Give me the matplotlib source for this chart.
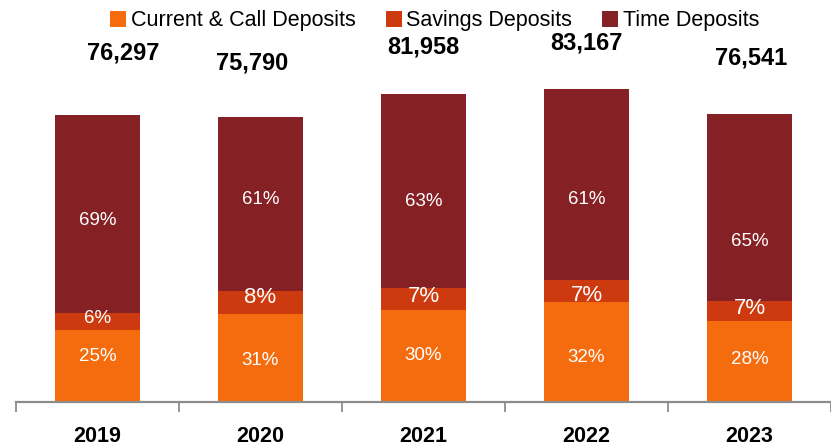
import matplotlib
matplotlib.use("Agg")
import matplotlib.pyplot as plt
from matplotlib.patches import Patch
import numpy as np

years = ["2019", "2020", "2021", "2022", "2023"]
totals = [76297, 75790, 81958, 83167, 76541]
current_pct = [25, 31, 30, 32, 28]
savings_pct = [6, 8, 7, 7, 7]
time_pct = [69, 61, 63, 61, 65]
series_names = ["Current & Call Deposits", "Savings Deposits", "Time Deposits"]

colors = ["#F56C0E", "#CE3A10", "#852024"]

plt.rcParams['font.family'] = ['Liberation Sans', 'DejaVu Sans']

fig = plt.figure(figsize=(8.31, 4.46), dpi=100)
ax = fig.add_axes([16/831, 44/446, 1 - 16/831, 402/446])

x = np.arange(len(years))
tot = np.array(totals, dtype=float)
cur = tot * np.array(current_pct) / 100
sav = tot * np.array(savings_pct) / 100
tim = tot * np.array(time_pct) / 100

w = 0.52
ax.bar(x, cur, w, color=colors[0])
ax.bar(x, sav, w, bottom=cur, color=colors[1])
ax.bar(x, tim, w, bottom=cur + sav, color=colors[2])

# label offsets (data units) to mimic label placement
time_dy = [-1860, 1060, -2920, -3990, -9040]
sav_dy = [700, 1200, 700, -1200, 700]
cur_dy = [2500, -800, 0, -1500, 700]
for i in range(len(years)):
    ax.text(x[i], cur[i] / 2 + cur_dy[i], f"{current_pct[i]}%", ha='center', va='center',
            color='white', fontsize=13.5)
    fs = 13.5 if savings_pct[i] == 6 else 16
    ax.text(x[i], cur[i] + sav[i] / 2 + sav_dy[i], f"{savings_pct[i]}%", ha='center', va='center',
            color='white', fontsize=fs)
    ax.text(x[i], cur[i] + sav[i] + tim[i] / 2 + time_dy[i], f"{time_pct[i]}%", ha='center',
            va='center', color='white', fontsize=13.5)

# total labels (offsets in data units relative to bar)
lab_dx = [0.16, -0.05, 0.0, 0.0, 0.01]
lab_dy = [16480, 14350, 12500, 12230, 14900]
for i in range(len(years)):
    ax.text(x[i] + lab_dx[i], tot[i] + lab_dy[i], f"{totals[i]:,}", ha='center', va='center',
            fontsize=17, fontweight='bold', color='black')

ax.set_xlim(-0.5, 4.5 - 7/164.5)
ax.set_ylim(0, 402 / 0.003762)
ax.set_yticks([])
for s in ['left', 'right', 'top']:
    ax.spines[s].set_visible(False)
ax.spines['bottom'].set_color('#8C8C8C')
ax.spines['bottom'].set_linewidth(1.6)
ax.set_xticks(np.arange(-0.5, 4.6, 1.0), minor=False)
ax.set_xticklabels([])
ax.tick_params(axis='x', which='major', length=7, width=1.3, color='#8C8C8C', direction='out')
ax.set_xticks(x, minor=True)
ax.set_xticklabels(years, minor=True, fontsize=15.5, fontweight='bold')
ax.tick_params(axis='x', which='minor', length=0, pad=17)

handles = [Patch(facecolor=c, edgecolor='none') for c in colors]
fig.legend(handles, series_names, loc='upper center', bbox_to_anchor=(0.523, 1.02), ncol=3,
           frameon=False, fontsize=15.5, handlelength=0.75, handleheight=0.75,
           handletextpad=0.2, columnspacing=1.4)

fig.savefig("out.png", dpi=100)
